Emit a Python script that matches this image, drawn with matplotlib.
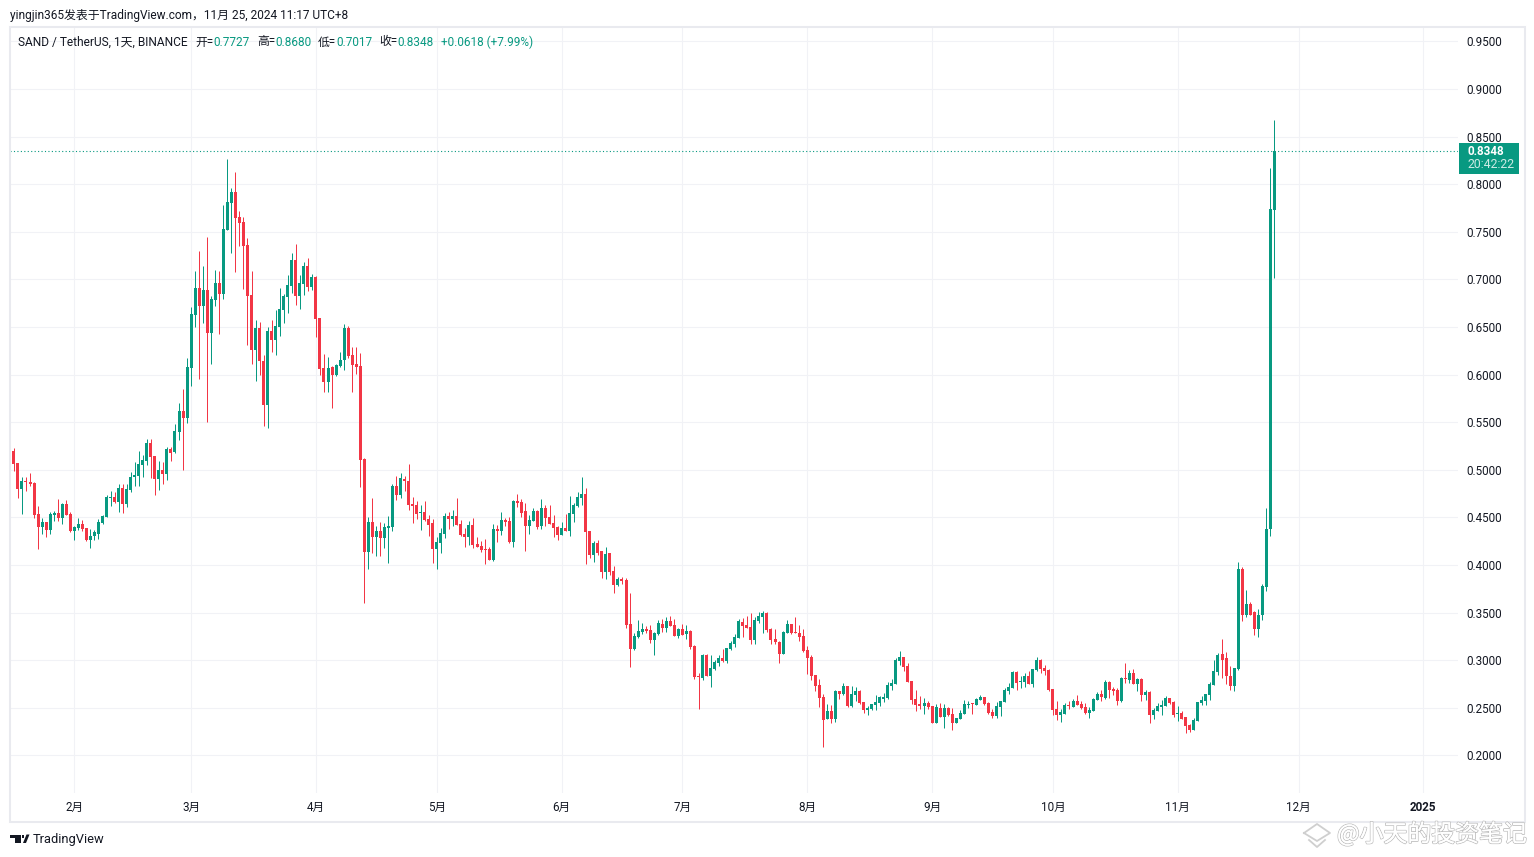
import matplotlib
matplotlib.use('Agg')
import matplotlib.pyplot as plt
import matplotlib.dates as mdates
import matplotlib.patheffects as pe
from matplotlib.patches import Rectangle, Polygon
from matplotlib.lines import Line2D
import numpy as np
import pandas as pd

plt.rcParams['font.family'] = ['Roboto', 'Noto Sans CJK SC', 'DejaVu Sans']

# daily candles, 2024-01-16 .. 2024-11-25, one row per month
opens = [
    .501,.520,.507,.480,.488,.487,.486,.4537,.440,.4453,.437,.4527,.4548,.4495,.4642,.4537,
    .4359,.439,.4432,.439,.4264,.4306,.4327,.4443,.4506,.4705,.4716,.4663,.481,.4642,.4789,.4926,.4936,.5052,.5094,.5283,.5146,.4905,.4999,.4957,.522,.5188,.5399,.5619,.5546,
    .6071,.6627,.6911,.6722,.689,.6438,.6785,.6964,.6848,.752,.7804,.7919,.7657,.7604,.7363,.6838,.626,.6491,.6144,.5682,.6459,.6365,.6501,.668,.6817,.6932,.7205,.6827,.6953,.7142,.6922,
    .7027,.6596,.607,.5924,.6081,.5997,.6092,.6155,.6491,.6207,.6113,.6094,.5117,.414,.4455,.4298,.436,.4287,.4392,.4403,.4833,.4739,.4907,.4886,.4644,.4634,.455,.456,.4487,.4445,
    .4172,.4235,.4329,.4518,.4487,.4518,.4434,.4329,.4298,.4424,.4224,.4203,.4172,.4172,.4056,.4382,.4361,.4476,.4466,.4245,.4676,.4665,.4571,.4413,.4466,.4571,.4409,.4598,.4504,.444,.4398,
    .4314,.4388,.4356,.4535,.4619,.4703,.4745,.4356,.4104,.423,.4146,.3926,.4125,.3936,.3789,.3852,.3842,.338,.3117,.3243,.3296,.3327,.3317,.3211,.3275,.338,.3338,.3411,.3369,.3254,
    .3327,.3275,.3306,.3148,.2833,.2812,.3054,.2831,.2905,.2968,.302,.2989,.3115,.3167,.323,.3398,.3367,.3346,.3209,.3409,.3451,.3493,.3325,.322,.3188,.3062,.3283,.3377,.3293,.3283,.3251,
    .3104,.3031,.2842,.2737,.2611,.2379,.2464,.2379,.2674,.2642,.2726,.2516,.2632,.2674,.2558,.2474,.2485,.2527,.2548,.2594,.2604,.273,.2751,.2993,.3035,.294,.2783,.2594,.2541,.252,.2552,
    .252,.2342,.2499,.2405,.2499,.2436,.2342,.2384,.2436,.2531,.2552,.2531,.2583,.2615,.2552,.2457,.2415,.251,.2562,.2678,.2709,.2877,.2772,.2772,.2835,.2751,.2898,.3004,.2919,.2898,
    .2699,.2489,.2426,.2436,.2531,.251,.2573,.2541,.251,.2447,.2468,.2583,.2646,.2604,.2772,.2699,.2688,.2573,.2814,.2793,.2867,.2751,.2804,.2636,.2667,.2426,.2468,.251,.252,.2604,.2562,
    .2436,.2447,.2405,.2321,.2268,.2363,.2552,.2573,.2636,.2741,.2877,.3062,.3019,.2834,.2732,.291,.3953,.348,.3594,.3509,.3323,.3476,.3771,.4379,.7727,
]
closes = [
    .520,.506,.480,.488,.487,.485,.4527,.440,.4453,.437,.4537,.4548,.4495,.4642,.4527,.4359,
    .440,.4432,.438,.4264,.4306,.4348,.4453,.4516,.4716,.4716,.4663,.481,.4642,.48,.4926,.4947,.5062,.5104,.5283,.5136,.4905,.4999,.4957,.522,.5178,.5409,.5619,.5546,.6081,
    .6638,.6911,.6722,.689,.6438,.6796,.6964,.6848,.7531,.7814,.7919,.7646,.7594,.7352,.6827,.626,.6491,.6144,.5682,.6459,.6365,.6512,.669,.6827,.6943,.7205,.6827,.6964,.7142,.6922,.7027,
    .6585,.606,.5924,.607,.5997,.6102,.6155,.6491,.6197,.6102,.6081,.5106,.414,.4455,.4298,.436,.4287,.4403,.4413,.4833,.4739,.4917,.4886,.4634,.4623,.4539,.456,.4476,.4424,.4172,
    .4245,.434,.4518,.4487,.4518,.4424,.4319,.4298,.4424,.4214,.4193,.4161,.4161,.4056,.4382,.4361,.4476,.4455,.4245,.4676,.4655,.455,.4413,.4476,.4571,.4403,.4598,.4493,.443,.4388,.4314,
    .4388,.4356,.4546,.463,.4714,.4745,.4346,.4104,.423,.4125,.3926,.4115,.3926,.3789,.3852,.3831,.3369,.3117,.3254,.3306,.3327,.3306,.3211,.3285,.339,.3338,.3411,.3359,.3254,.3327,
    .3264,.3306,.3138,.2823,.2823,.3054,.2833,.2915,.2978,.302,.2989,.3125,.3178,.3241,.3409,.3356,.3335,.3209,.3419,.3461,.3493,.3314,.3209,.3188,.3062,.3293,.3377,.3283,.3283,.3241,.3094,
    .302,.2831,.2726,.26,.2369,.2464,.2379,.2674,.2642,.2726,.2516,.2642,.2674,.2548,.2474,.2495,.2537,.2558,.2611,.2615,.2741,.2762,.3004,.3035,.293,.2772,.2583,.2531,.252,.2552,.251,
    .2342,.251,.2405,.2499,.2426,.2342,.2394,.2447,.2541,.2541,.2541,.2594,.2615,.2541,.2447,.2415,.252,.2573,.2688,.272,.2877,.2762,.2783,.2835,.2751,.2909,.3004,.2909,.2888,.2688,
    .2478,.2426,.2457,.2531,.252,.2573,.2531,.2499,.2447,.2478,.2594,.2646,.2615,.2772,.2688,.2678,.2573,.2814,.2804,.2867,.2751,.2804,.2636,.2667,.2426,.2478,.252,.2531,.2604,.2552,.2426,
    .2447,.2384,.231,.2268,.2373,.2562,.2583,.2646,.2751,.2888,.3056,.3007,.2834,.2732,.2922,.3953,.348,.3594,.348,.3323,.3476,.3775,.4383,.7736,.8348,
]
highs = [
    .5205,.523,.507,.4926,.4926,.497,.487,.462,.4495,.4453,.456,.457,.4695,.4653,.4684,.4558,
    .4411,.4495,.4474,.439,.438,.4369,.4485,.4527,.4737,.4779,.4768,.4852,.4852,.4852,.4978,.5083,.5199,.5157,.5325,.5325,.5146,.5094,.5083,.5241,.5241,.5483,.5703,.585,.6176,
    .6711,.709,.73,.7142,.7447,.6827,.71,.709,.7783,.8266,.7961,.813,.772,.7657,.7436,.709,.6575,.6554,.6207,.6501,.6575,.668,.6911,.6848,.7048,.7279,.7373,.7048,.7184,.7226,.7058,
    .7037,.6596,.6218,.6186,.6092,.6113,.6239,.6533,.6512,.6291,.6291,.623,.5127,.4508,.4707,.4413,.4455,.4445,.4518,.4854,.4938,.497,.4938,.5064,.4718,.4676,.4634,.4676,.4529,.4487,
    .4298,.4392,.455,.456,.4581,.4707,.4476,.4392,.4466,.4497,.4298,.4256,.4277,.4193,.4434,.4424,.456,.4497,.4508,.4686,.4749,.4697,.4655,.4529,.4602,.4581,.4693,.463,.463,.4525,.4409,
    .4451,.4535,.4724,.4651,.4766,.4924,.4808,.4356,.4251,.4262,.4146,.4188,.4125,.3989,.3873,.3873,.3863,.3705,.3285,.3422,.339,.3359,.3369,.3296,.3422,.3432,.3453,.3464,.3432,.3338,
    .338,.3369,.3317,.3159,.2865,.3064,.3064,.3052,.2999,.3052,.3115,.3125,.3199,.3272,.343,.344,.3461,.3493,.3451,.3503,.3514,.3503,.3335,.3325,.3199,.3304,.3419,.3377,.3451,.3367,.3325,
    .3146,.3052,.2842,.28,.2642,.2537,.2527,.2684,.2674,.2758,.2726,.2726,.2716,.2684,.2558,.2516,.2537,.2632,.2621,.2657,.2772,.2804,.3025,.3098,.3035,.2972,.2783,.2688,.2625,.2604,.2573,
    .252,.2541,.2552,.2541,.251,.2499,.2394,.2478,.2583,.2573,.2552,.2604,.2636,.2615,.2562,.2489,.2562,.2573,.2709,.2762,.2888,.2888,.2835,.2867,.2888,.2909,.3035,.3014,.2951,.2909,
    .2699,.2573,.2489,.2552,.2573,.2594,.2636,.2573,.2552,.251,.2604,.2667,.2688,.2793,.2783,.272,.2709,.2825,.2972,.2898,.2909,.2814,.2814,.2688,.2678,.2499,.2552,.2583,.2625,.2604,.2573,
    .252,.2468,.2405,.2331,.2394,.2562,.2625,.2646,.2772,.3004,.3077,.3226,.3083,.2935,.2922,.4029,.3982,.3733,.3611,.3518,.3535,.3796,.4595,.8167,.868,
]
lows = [
    .501,.499,.4705,.4537,.478,.483,.4495,.417,.4327,.4296,.4327,.4464,.4464,.4432,.4527,.4348,
    .4264,.4369,.4359,.4254,.418,.4264,.4275,.4432,.4506,.4621,.4653,.4558,.4548,.4611,.4768,.4831,.4831,.4926,.5052,.4915,.4737,.4789,.4852,.4894,.5094,.5174,.5314,.4999,.5493,
    .5882,.6501,.5955,.6543,.5504,.6113,.6722,.6428,.6796,.752,.7279,.7079,.7352,.69,.6312,.6113,.5934,.5997,.5462,.5441,.6239,.6207,.6407,.6543,.6648,.6859,.6733,.669,.6838,.688,.689,
    .6396,.5997,.5819,.5819,.5651,.5987,.6081,.605,.6176,.5819,.6008,.4823,.3604,.3961,.413,.4098,.4098,.4182,.4025,.436,.4686,.4707,.4781,.4581,.4445,.4487,.4371,.4466,.4308,.4025,
    .3961,.413,.4287,.4382,.4413,.4424,.4308,.4193,.4214,.4182,.4193,.414,.4014,.4056,.4046,.4245,.4319,.4413,.4235,.4193,.4613,.4508,.415,.4329,.4466,.4382,.4377,.4409,.443,.4293,.4262,
    .4314,.4356,.4304,.4451,.4609,.463,.401,.4073,.4031,.4104,.3863,.3852,.3894,.3705,.3779,.38,.3337,.2928,.3106,.3232,.3275,.3285,.318,.3054,.3264,.3296,.3296,.3359,.3254,.3232,
    .3264,.3222,.3117,.2802,.2487,.2791,.2833,.2716,.2894,.2936,.2978,.2968,.3104,.3136,.323,.3241,.3335,.3167,.3167,.3388,.3283,.3293,.3167,.3167,.2968,.3062,.3283,.3272,.3283,.3199,.3083,
    .2852,.2789,.2674,.2506,.2085,.2379,.2338,.2348,.259,.2632,.2506,.2506,.2569,.2537,.2443,.2422,.2474,.2474,.2516,.2562,.2594,.2688,.2751,.2951,.2888,.2772,.2541,.2468,.2489,.2436,.2489,
    .2342,.2342,.2405,.2289,.2415,.2268,.2342,.2384,.2436,.2499,.2436,.2531,.2583,.2531,.2436,.2394,.2394,.2415,.2562,.2646,.2709,.2688,.2709,.272,.2751,.272,.2888,.2867,.2846,.2678,
    .2426,.2373,.2352,.2436,.2489,.251,.2531,.2489,.2436,.2394,.2468,.2583,.2573,.2594,.2604,.2636,.2531,.2562,.2762,.2762,.2751,.2678,.2573,.2583,.2342,.2384,.2468,.2426,.252,.2541,.2405,
    .2363,.2384,.2237,.2247,.2268,.2363,.2531,.2531,.2583,.2741,.2846,.2817,.2749,.2686,.2673,.2901,.3412,.3454,.3476,.3264,.3243,.3421,.3729,.4303,.7017,
]
month_ticks = ['2024-02-01', '2024-03-01', '2024-04-01', '2024-05-01', '2024-06-01', '2024-07-01',
               '2024-08-01', '2024-09-01', '2024-10-01', '2024-11-01', '2024-12-01', '2025-01-01']
month_labels = ['2月', '3月', '4月', '5月', '6月', '7月', '8月', '9月', '10月', '11月', '12月', '2025']
price_ticks = [0.20, 0.25, 0.30, 0.35, 0.40, 0.45, 0.50, 0.55, 0.60, 0.65, 0.70, 0.75, 0.80, 0.85, 0.90, 0.95]
last_price = 0.8348

GREEN = '#089981'
RED = '#F23645'
GRID = '#f1f2f6'
FRAME = '#e9eaef'
TEXT = '#131722'
W, H = 1534, 857

fig = plt.figure(figsize=(W / 100, H / 100), dpi=100, facecolor='white')


def fx(x):
    return x / W


def fy(y):
    return 1 - y / H


ax = fig.add_axes([fx(10), fy(793), fx(1458 - 10), (793 - 27) / H])
dates = mdates.date2num(pd.date_range('2024-01-16', '2024-11-25'))
o, c, hi, lo = map(np.array, (opens, closes, highs, lows))
colors = [GREEN if b >= a else RED for a, b in zip(o, c)]

ax.vlines(dates, lo, hi, colors=colors, linewidth=0.72, zorder=3)
ax.bar(dates, np.maximum(np.abs(c - o), 0.0008), bottom=np.minimum(o, c), width=0.74, color=colors, linewidth=0, zorder=4)
ax.axhline(last_price, color=GREEN, linewidth=0.8, linestyle=(0, (1, 2.1)), zorder=5)

ax.set_xlim(mdates.date2num(pd.Timestamp('2024-01-16')) + 0.03, mdates.date2num(pd.Timestamp('2024-01-16')) + 359.6)
ax.set_ylim(0.1605, 0.9652)
ax.set_xticks(mdates.date2num(pd.to_datetime(month_ticks)))
ax.set_xticklabels(month_labels)
ax.set_yticks(price_ticks)
ax.set_yticklabels(['%.4f' % p for p in price_ticks])
ax.yaxis.tick_right()
ax.tick_params(axis='y', length=0, pad=6, labelsize=8.4, labelcolor=TEXT)
ax.tick_params(axis='x', length=0, pad=6, labelsize=8.4, labelcolor=TEXT)
ax.get_xticklabels()[-1].set_fontweight('bold')
ax.grid(True, color=GRID, linewidth=0.8, zorder=0)
ax.set_axisbelow(True)
for s in ax.spines.values():
    s.set_visible(False)

# outer frame of the chart
fig.add_artist(Rectangle((fx(9.5), fy(822)), fx(1515.5), (822 - 27) / H, transform=fig.transFigure,
                         fill=False, edgecolor=FRAME, linewidth=1.5))

# last price box
fig.add_artist(Rectangle((fx(1459), fy(174)), fx(60), 31 / H, transform=fig.transFigure, facecolor=GREEN, linewidth=0, zorder=6))
fig.text(fx(1467), fy(151.5), '0.8348', color='white', fontsize=8.4, fontweight='bold', va='center', zorder=7)
fig.text(fx(1467), fy(165), '20:42:22', color='#cdebe5', fontsize=8.8, va='center', zorder=7)

# header and OHLC legend
fig.text(fx(10), fy(15), 'yingjin365发表于TradingView.com，11月 25, 2024 11:17 UTC+8', color=TEXT, fontsize=8.55, va='center')
fig.text(fx(18), fy(42), 'SAND / TetherUS, 1天, BINANCE', color=TEXT, fontsize=8.55, va='center')
legend_names = [(195, '开='), (257, '高='), (318, '低='), (379, '收=')]
legend_values = [(213, '0.7727'), (275, '0.8680'), (336, '0.7017'), (397, '0.8348'), (441, '+0.0618 (+7.99%)')]
for x, s in legend_names:
    fig.text(fx(x), fy(42), s, color=TEXT, fontsize=8.5, va='center')
for x, s in legend_values:
    fig.text(fx(x), fy(42), s, color=GREEN, fontsize=8.5, va='center')

# TradingView logo and name
logo = [[(10, 834.5), (20.5, 834.5), (20.5, 843), (15, 843), (15, 838), (10, 838)],
        [(23, 843), (26.5, 834.5), (29.5, 834.5), (26, 843)],
        [(21.5, 835), (24, 835), (24, 837.5), (21.5, 837.5)]]
for pts in logo:
    fig.add_artist(Polygon([(fx(a), fy(b)) for a, b in pts], transform=fig.transFigure, facecolor=TEXT, linewidth=0))
fig.text(fx(33), fy(839.5), 'TradingView', color=TEXT, fontsize=9.3, va='center')

# watermark
wm = fig.text(fx(1337), fy(834), '@小天的投资笔记', color='white', fontsize=17.2, va='center', zorder=8,
              family=['Noto Sans CJK SC', 'DejaVu Sans'])
wm.set_path_effects([pe.withStroke(linewidth=1.2, foreground='#bdbdbd'), pe.Normal()])
for pts in ([(1304, 833), (1317, 824), (1330, 833), (1317, 841), (1304, 833)], [(1309, 840), (1317, 847), (1325, 840)]):
    fig.add_artist(Line2D([fx(a) for a, b in pts], [fy(b) for a, b in pts], transform=fig.transFigure,
                          color='#cfcfcf', linewidth=1.3))

fig.savefig('out.png', dpi=100)
